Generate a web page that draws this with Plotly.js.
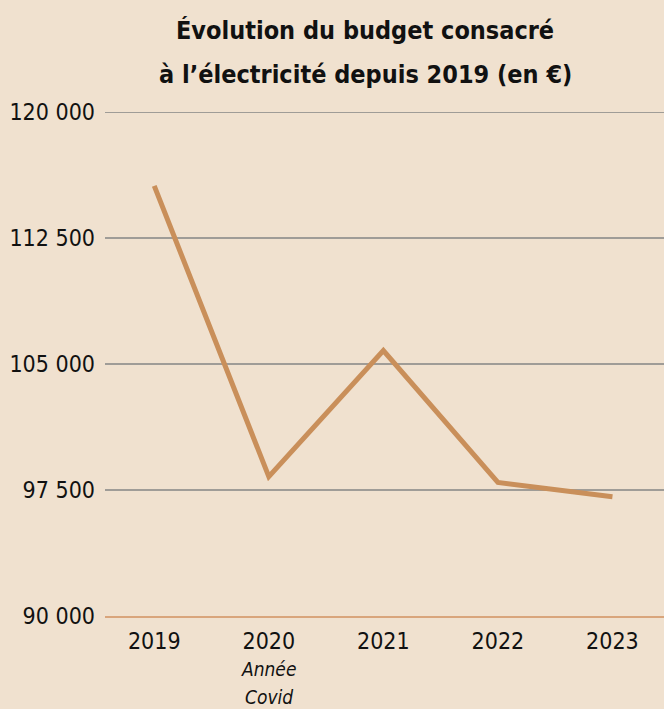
<!DOCTYPE html>
<html><head><meta charset="utf-8">
<script src="https://cdn.plot.ly/plotly-3.0.1.min.js"></script>
<style>
html,body{margin:0;padding:0;background:#f0e1cf;}
.main-svg text{font-stretch:condensed !important;}
</style>
</head><body>
<div id="chart" style="width:664px;height:709px;"></div>
<script>
const years = ['2019', '2020', '2021', '2022', '2023'];
const budget = [115600, 98300, 105800, 97950, 97100];
const yTickVals = [90000, 97500, 105000, 112500, 120000];
const yTickText = ['90 000', '97 500', '105 000', '112 500', '120 000'];
const noteYear = '2020';
const noteLines = ['Année', 'Covid'];
const titleLines = ['Évolution du budget consacré', 'à l’électricité depuis 2019 (en €)'];

const FONT = '"DejaVu Sans Condensed", "DejaVu Sans", sans-serif';
const PLOT_TOP = 112, PLOT_H = 504, PLOT_L = 105, PLOT_W = 559;
function paperY(px) { return 1 + (PLOT_TOP - px) / PLOT_H; }
function paperX(px) { return (px - PLOT_L) / PLOT_W; }

const trace = {
  x: years, y: budget, type: 'scatter', mode: 'lines',
  line: {color: '#c98f5a', width: 5}, hoverinfo: 'skip'
};

const annotations = [];
titleLines.forEach((t, i) => annotations.push({
  x: paperX(365), xref: 'paper', y: paperY(31 + 43 * i), yref: 'paper',
  xanchor: 'center', yanchor: 'middle', showarrow: false, text: '<b>' + t + '</b>',
  font: {family: FONT, size: 25, color: '#111'}
}));
noteLines.forEach((t, i) => annotations.push({
  x: years.indexOf(noteYear), xref: 'x', y: paperY(669 + 28 * i), yref: 'paper',
  xanchor: 'center', yanchor: 'middle', showarrow: false, text: '<i>' + t + '</i>',
  font: {family: FONT, size: 19, color: '#111'}
}));

const shapes = yTickVals.slice(1).map(v => ({
  type: 'line', xref: 'paper', x0: 0, x1: 1, yref: 'y', y0: v, y1: v,
  line: {color: '#858585', width: 1.5}, layer: 'below'
}));

const layout = {
  width: 664, height: 709,
  paper_bgcolor: '#f0e1cf', plot_bgcolor: '#f0e1cf',
  margin: {l: PLOT_L, r: 0, t: PLOT_TOP, b: 709 - PLOT_TOP - PLOT_H},
  showlegend: false,
  font: {family: FONT, color: '#111', size: 22},
  xaxis: {
    type: 'category', range: [-0.43, 4.45], showgrid: false, zeroline: false,
    showline: true, linecolor: '#d9a57c', linewidth: 1.5,
    ticks: '', ticklabelstandoff: 4, tickfont: {family: FONT, size: 23, color: '#111'},
    fixedrange: true
  },
  yaxis: {
    range: [90000, 120000], tickvals: yTickVals, ticktext: yTickText,
    showgrid: false, zeroline: false,
    showline: false, ticks: '', ticklabelstandoff: 9,
    tickfont: {family: FONT, size: 23, color: '#111'}, fixedrange: true
  },
  shapes: shapes,
  annotations: annotations
};

Plotly.newPlot('chart', [trace], layout, {displayModeBar: false, staticPlot: true});
</script>
</body></html>
